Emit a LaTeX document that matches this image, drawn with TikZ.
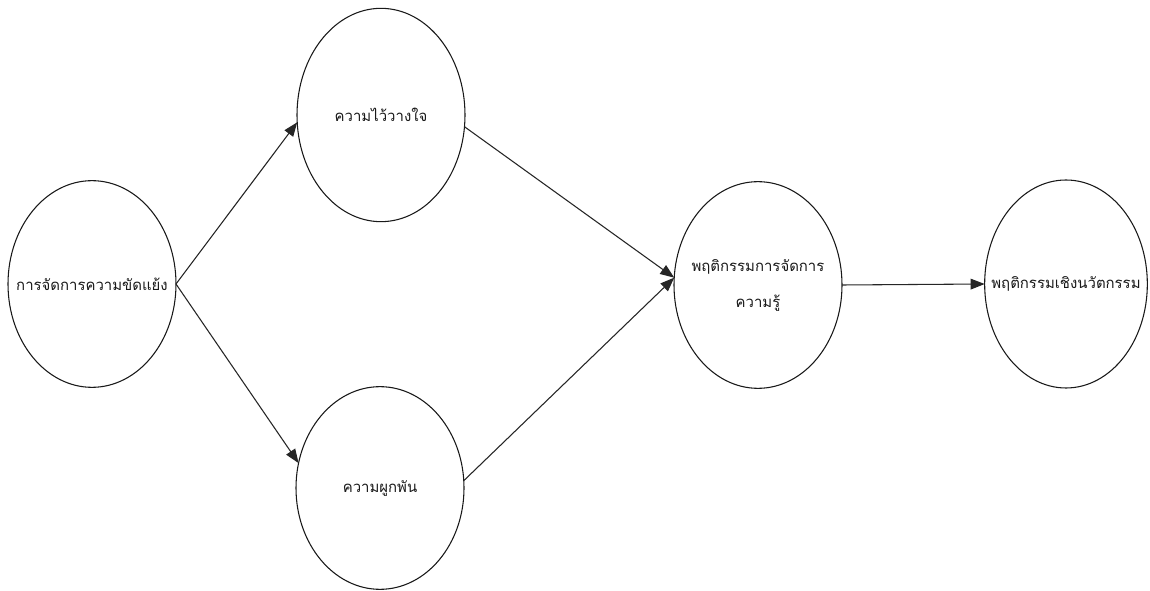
\documentclass[tikz,border=0pt]{standalone}
\usepackage{fontspec}
\newfontfamily\thaifont[Script=Thai]{Loma}
\usetikzlibrary{shapes.geometric,arrows.meta}
\begin{document}
\begin{tikzpicture}[x=0.75pt,y=-0.75pt,
  bubble/.style={ellipse,draw=black!90,line width=0.8pt,inner sep=0pt,outer sep=0pt,
    minimum width=126pt,minimum height=155pt},
  caption/.style={font=\thaifont\fontsize{11.2}{27}\selectfont,text=black!90,align=center,inner sep=0pt},
  link/.style={draw=black!85,line width=0.8pt,
    -{Triangle[length=10.5pt,width=8pt]}}]
\path[use as bounding box,fill=white] (0,0) rectangle (1150,591);

% circles, each carrying its caption at the centre
\node[bubble,label={[caption]center:การจัดการความขัดแย้ง}] (conf) at (92,284) {};
\node[bubble,minimum height=160pt,label={[caption]center:ความไว้วางใจ}] (trust) at (381,115) {};
\node[bubble,minimum height=152pt,label={[caption]center:ความผูกพัน}] (bond) at (380,488) {};
\node[bubble,label={[caption]center:พฤติกรรมการจัดการ\\ความรู้}] (km) at (758,285) {};
\node[bubble,minimum width=122pt,minimum height=156pt,label={[caption]center:พฤติกรรมเชิงนวัตกรรม}] (inno) at (1066,284) {};

% connectors
\draw[link] (conf.east) -- (trust.185);
\draw[link] (conf.east) -- (bond.163);
\draw[link] (trust.-8) -- (km.175);
\draw[link] (bond.5) -- (km.175);
\draw[link] (km.east) -- (inno.west);
\end{tikzpicture}
\end{document}
